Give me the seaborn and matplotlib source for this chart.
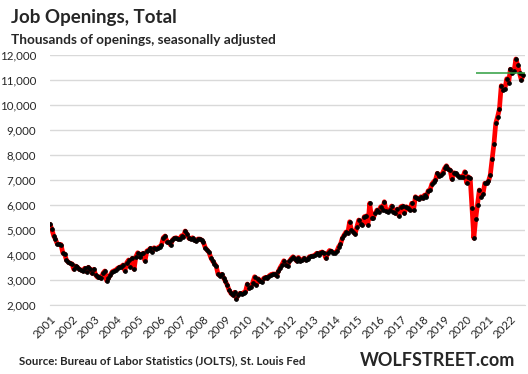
import numpy as np
import pandas as pd
import seaborn as sns
import matplotlib.pyplot as plt
from matplotlib.ticker import FuncFormatter

# JOLTS job openings, thousands, monthly (Dec 2000 - Jul 2022)
jo_2000 = [5230]
jo_2001 = [5030, 4770, 4630, 4440, 4430, 4420, 4090, 4040, 3800, 3710, 3670, 3650]
jo_2002 = [3430, 3560, 3510, 3430, 3400, 3360, 3470, 3330, 3510, 3430, 3270, 3430]
jo_2003 = [3200, 3110, 3130, 3070, 3270, 3360, 2970, 3070, 3200, 3330, 3370, 3400]
jo_2004 = [3470, 3510, 3530, 3600, 3370, 3690, 3800, 3530, 3870, 3430, 3930, 4090]
jo_2005 = [3930, 4030, 4070, 3760, 4160, 4200, 4270, 4130, 4290, 4250, 4290, 4330]
jo_2006 = [4400, 4690, 4760, 4530, 4510, 4400, 4600, 4670, 4690, 4640, 4650, 4770]
jo_2007 = [4730, 4960, 4830, 4670, 4640, 4690, 4600, 4560, 4640, 4640, 4600, 4510]
jo_2008 = [4290, 4200, 4110, 3900, 3760, 3660, 3550, 3230, 3170, 3230, 3090, 2950]
jo_2009 = [2800, 2600, 2470, 2400, 2510, 2250, 2400, 2470, 2440, 2500, 2530, 2840]
jo_2010 = [2670, 2730, 2900, 3130, 2800, 3050, 2950, 2930, 3070, 3110, 3070, 3170]
jo_2011 = [3220, 3240, 3240, 3170, 3350, 3500, 3620, 3770, 3620, 3560, 3750, 3850]
jo_2012 = [3930, 3850, 3760, 3900, 3760, 3800, 3870, 3800, 3830, 3930, 3950, 3960]
jo_2013 = [4000, 4070, 4020, 4100, 4120, 4070, 3870, 4070, 4180, 4150, 4100, 4090]
jo_2014 = [4150, 4330, 4430, 4670, 4800, 4920, 4870, 5330, 5000, 4930, 4840, 5130]
jo_2015 = [5400, 5240, 5200, 5530, 5560, 5200, 6070, 5470, 5490, 5670, 5800, 5730]
jo_2016 = [5930, 5800, 6130, 5770, 5730, 5800, 5960, 5730, 5670, 5840, 5570, 5930]
jo_2017 = [5960, 5670, 5930, 5870, 5800, 6070, 5800, 6330, 6270, 6230, 6330, 6270]
jo_2018 = [6400, 6330, 6570, 6600, 6840, 6930, 7000, 7270, 7160, 7200, 7290, 7470]
jo_2019 = [7570, 7430, 7400, 7030, 7290, 7270, 7200, 7130, 7130, 7110, 7330, 6890]
jo_2020 = [7130, 7070, 5890, 4670, 5440, 6010, 6600, 6330, 6450, 6870, 6870, 6950]
jo_2021 = [7200, 7840, 8440, 9270, 9530, 9840, 10770, 10600, 10660, 11050, 10880, 11430]
jo_2022 = [11290, 11350, 11840, 11600, 11270, 11000, 11200]

years = list(range(2001, 2023))
ref_level = 11270
ref_start = 233

values = (jo_2000 + jo_2001 + jo_2002 + jo_2003 + jo_2004 + jo_2005 + jo_2006
          + jo_2007 + jo_2008 + jo_2009 + jo_2010 + jo_2011 + jo_2012 + jo_2013
          + jo_2014 + jo_2015 + jo_2016 + jo_2017 + jo_2018 + jo_2019 + jo_2020
          + jo_2021 + jo_2022)
df = pd.DataFrame({'month': np.arange(len(values)), 'openings': values})

sns.set_style('white')
plt.rcParams['font.family'] = ['Lato', 'DejaVu Sans']

fig = plt.figure(figsize=(5.28, 3.74), dpi=100)
ax = fig.add_axes([50 / 528, 69 / 374, 475 / 528, 250 / 374])

sns.lineplot(data=df, x='month', y='openings', ax=ax, color='#ff0000', linewidth=3.4,
             marker='o', markersize=2.6, markerfacecolor='black', markeredgecolor='black',
             zorder=3)
ax.hlines(ref_level, ref_start, len(values) + 1, color='#2e9e3e', linewidth=1.1, zorder=4)

ax.set_xlim(0, 260)
ax.set_ylim(2000, 12000)
ax.set_yticks(range(2000, 12001, 1000))
ax.yaxis.set_major_formatter(FuncFormatter(lambda v, p: f'{int(v):,}'))
ax.set_xticks([12 * k for k in range(len(years))])
ax.set_xticklabels([str(y) for y in years], rotation=45, ha='right',
                   rotation_mode='anchor')
ax.grid(axis='y', color='#d9d9d9', linewidth=1)
ax.set_axisbelow(True)
for s in ['top', 'right', 'left']:
    ax.spines[s].set_visible(False)
ax.spines['bottom'].set_color('#d9d9d9')
ax.tick_params(axis='x', length=4, color='#d9d9d9', labelsize=8.3, pad=2)
ax.tick_params(axis='y', length=0, labelsize=8.3, pad=10)
ax.set_xlabel('')
ax.set_ylabel('')

fig.text(11 / 528, 1 - 17 / 374, 'Job Openings, Total', fontsize=13.5, fontweight='bold',
         va='center', ha='left')
fig.text(11 / 528, 1 - 40 / 374, 'Thousands of openings, seasonally adjusted',
         fontsize=9.8, fontweight='bold', va='center', ha='left')
fig.text(19 / 528, 1 - 361 / 374, 'Source: Bureau of Labor Statistics (JOLTS), St. Louis Fed',
         fontsize=8.3, fontweight='bold', va='center', ha='left')
fig.text(515 / 528, 1 - 361 / 374, 'WOLFSTREET.com', fontsize=13, fontweight='bold',
         va='center', ha='right')

fig.savefig('out.png', dpi=100)
